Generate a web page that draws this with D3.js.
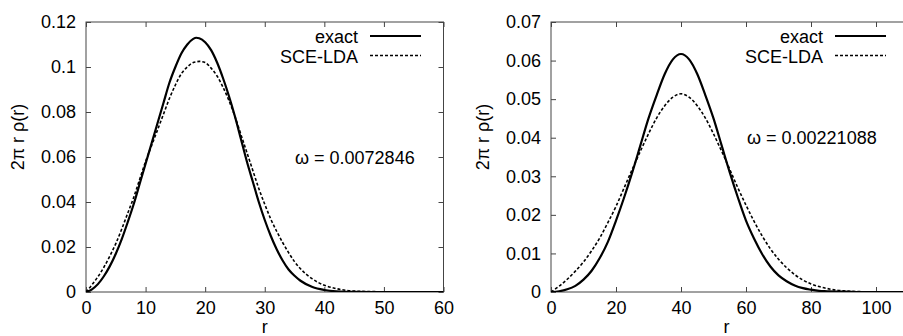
<!DOCTYPE html>
<html>
<head>
<meta charset="utf-8">
<script src="https://cdn.jsdelivr.net/npm/d3@7"></script>
<style>
  body { margin: 0; background: #fff; }
  svg text { font-family: "Liberation Sans", Arial, Helvetica, sans-serif; fill: #000; }
</style>
</head>
<body>
<svg id="chart"></svg>
<script>
// left panel, omega = 0.0072846
var leftR      = [0, 1, 2, 3, 4, 5, 6, 7, 8, 9, 10, 11, 12, 13, 14, 15, 16, 17, 18, 18.5, 19, 20, 21, 22, 23, 24, 25, 26, 27, 28, 29, 30, 31, 32, 33, 34, 35, 36, 38, 40, 42, 45, 50, 55, 60];
var leftExact  = [0, 0.0012, 0.0035, 0.007, 0.0115, 0.017, 0.0235, 0.031, 0.039, 0.048, 0.057, 0.066, 0.075, 0.084, 0.093, 0.100, 0.106, 0.110, 0.1125, 0.113, 0.1128, 0.111, 0.1075, 0.102, 0.095, 0.087, 0.078, 0.068, 0.058, 0.049, 0.040, 0.032, 0.025, 0.019, 0.014, 0.010, 0.0072, 0.005, 0.0022, 0.0009, 0.0003, 0.00005, 0, 0, 0];
var leftSce    = [0, 0.0032, 0.0068, 0.011, 0.016, 0.0215, 0.028, 0.035, 0.042, 0.050, 0.058, 0.065, 0.072, 0.079, 0.086, 0.092, 0.097, 0.100, 0.102, 0.1023, 0.1025, 0.102, 0.0995, 0.096, 0.091, 0.085, 0.078, 0.070, 0.062, 0.054, 0.046, 0.039, 0.0325, 0.027, 0.022, 0.0175, 0.0135, 0.0103, 0.0058, 0.003, 0.0015, 0.0004, 0.0001, 0, 0];

// right panel, omega = 0.00221088
var rightR     = [0, 2.5, 5, 7.5, 10, 12.5, 15, 17.5, 20, 22.5, 25, 27.5, 30, 32.5, 35, 37.5, 40, 42.5, 45, 47.5, 50, 52.5, 55, 57.5, 60, 62.5, 65, 67.5, 70, 72.5, 75, 77.5, 80, 82.5, 85, 87.5, 90, 95, 100, 110];
var rightExact = [0, 0.0002, 0.0007, 0.0016, 0.0032, 0.0055, 0.0088, 0.013, 0.0185, 0.0245, 0.031, 0.038, 0.045, 0.051, 0.0565, 0.0603, 0.0617, 0.0603, 0.0565, 0.051, 0.045, 0.038, 0.031, 0.0245, 0.0185, 0.0138, 0.0098, 0.0066, 0.0043, 0.0028, 0.0017, 0.001, 0.0006, 0.0003, 0.0002, 0.0001, 0.0001, 0, 0, 0];
var rightSce   = [0, 0.0015, 0.0033, 0.0054, 0.0078, 0.0107, 0.014, 0.018, 0.0222, 0.027, 0.0318, 0.0365, 0.041, 0.0451, 0.0483, 0.0505, 0.0514, 0.0505, 0.0483, 0.0451, 0.041, 0.0365, 0.0318, 0.027, 0.0225, 0.0183, 0.0145, 0.0112, 0.0085, 0.0063, 0.0045, 0.0031, 0.0021, 0.0014, 0.0009, 0.0005, 0.0003, 0.0001, 0, 0];

var leftXTicks  = [0, 10, 20, 30, 40, 50, 60];
var leftYTicks  = [0, 0.02, 0.04, 0.06, 0.08, 0.1, 0.12];
var rightXTicks = [0, 20, 40, 60, 80, 100];
var rightYTicks = [0, 0.01, 0.02, 0.03, 0.04, 0.05, 0.06, 0.07];

var seriesNames = ["exact", "SCE-LDA"];
var leftLabel   = "\u03c9 = 0.0072846";
var rightLabel  = "\u03c9 = 0.00221088";

var totalWidth = 903, totalHeight = 336;
var svg = d3.select("#chart")
    .attr("width", totalWidth)
    .attr("height", totalHeight);

var fontSize = 18;
var plotW = 357.5, plotH = 270, marginTop = 22;

function drawPanel(left, xMax, yMax, xTicks, yTicks, r, exact, sce, label, labelX, labelY) {
    var g = svg.append("g").attr("transform", "translate(" + left + "," + marginTop + ")");

    var x = d3.scaleLinear().domain([0, xMax]).range([0, plotW]);
    var y = d3.scaleLinear().domain([0, yMax]).range([plotH, 0]);

    g.append("defs").append("clipPath")
        .attr("id", "clip" + left)
        .append("rect").attr("width", plotW).attr("height", plotH + 1).attr("y", -1);

    var fmt = d3.format("~g");

    // bottom axis with labels, ticks pointing inwards
    var xa = g.append("g")
        .attr("transform", "translate(0," + plotH + ")")
        .call(d3.axisBottom(x).tickValues(xTicks).tickFormat(fmt).tickSize(-5).tickPadding(9));
    // top mirror ticks
    var xt = g.append("g")
        .call(d3.axisTop(x).tickValues(xTicks).tickFormat("").tickSize(-5));
    var ya = g.append("g")
        .call(d3.axisLeft(y).tickValues(yTicks).tickFormat(fmt).tickSize(-5).tickPadding(10));
    var yr = g.append("g")
        .attr("transform", "translate(" + plotW + ",0)")
        .call(d3.axisRight(y).tickValues(yTicks).tickFormat("").tickSize(-5));

    [xa, xt, ya, yr].forEach(function (a) {
        a.select(".domain").remove();
        a.selectAll(".tick line").attr("stroke", "#444");
        a.selectAll(".tick text").attr("font-size", fontSize).attr("font-family", null);
    });
    xa.selectAll(".tick text").attr("dy", "0.71em");

    g.append("rect")
        .attr("width", plotW).attr("height", plotH)
        .attr("fill", "none").attr("stroke", "#444").attr("stroke-width", 1);

    var line = d3.line()
        .x(function (d) { return x(d[0]); })
        .y(function (d) { return y(d[1]); })
        .curve(d3.curveMonotoneX);

    var curves = g.append("g").attr("clip-path", "url(#clip" + left + ")");
    curves.append("path")
        .datum(d3.zip(r, sce))
        .attr("fill", "none").attr("stroke", "#000")
        .attr("stroke-width", 1.6).attr("stroke-dasharray", "3,2")
        .attr("d", line);
    curves.append("path")
        .datum(d3.zip(r, exact))
        .attr("fill", "none").attr("stroke", "#000")
        .attr("stroke-width", 2.2)
        .attr("d", line);

    // legend
    var leg = g.append("g");
    seriesNames.forEach(function (name, i) {
        var ly = 14 + i * 19.5;
        leg.append("text")
            .attr("x", 272).attr("y", ly + 7)
            .attr("text-anchor", "end").attr("font-size", fontSize)
            .text(name);
        leg.append("line")
            .attr("x1", 284).attr("x2", 335)
            .attr("y1", ly).attr("y2", ly)
            .attr("stroke", "#000")
            .attr("stroke-width", i == 0 ? 2.2 : 1.6)
            .attr("stroke-dasharray", i == 0 ? null : "3,2");
    });

    g.append("text")
        .attr("x", labelX).attr("y", labelY)
        .attr("font-size", fontSize)
        .text(label);

    // axis titles
    g.append("text")
        .attr("transform", "translate(" + (-62) + "," + (plotH / 2 - 20) + ") rotate(-90)")
        .attr("text-anchor", "middle").attr("font-size", fontSize)
        .text("2\u03c0 r \u03c1(r)");
    g.append("text")
        .attr("x", x(xMax / 2 - (xMax == 60 ? 0 : 1))).attr("y", plotH + 41)
        .attr("text-anchor", "middle").attr("font-size", fontSize)
        .text("r");
}

drawPanel(86, 60, 0.12, leftXTicks, leftYTicks, leftR, leftExact, leftSce, leftLabel, 209, 142);
drawPanel(551, 110, 0.07, rightXTicks, rightYTicks, rightR, rightExact, rightSce, rightLabel, 196, 122);
</script>
</body>
</html>
